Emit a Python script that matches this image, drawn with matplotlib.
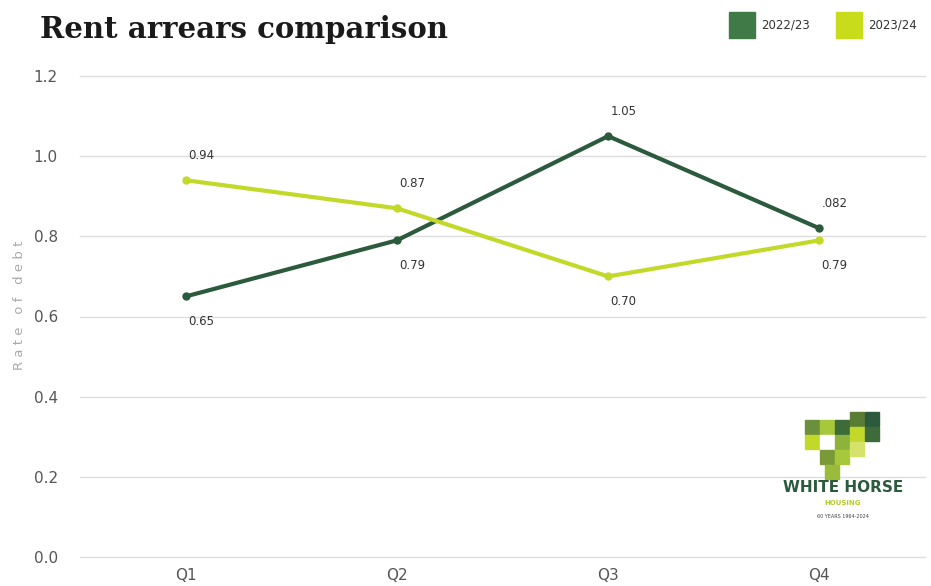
import matplotlib
matplotlib.use('Agg')
import matplotlib.pyplot as plt
from matplotlib.patches import Rectangle

quarters = ['Q1', 'Q2', 'Q3', 'Q4']
rate_2223 = [0.65, 0.79, 1.05, 0.82]
rate_2324 = [0.94, 0.87, 0.70, 0.79]
labels_2223 = ['0.65', '0.79', '1.05', '.082']
labels_2324 = ['0.94', '0.87', '0.70', '0.79']
# +1 = label above the point, -1 = below
pos_2223 = [-1, -1, 1, 1]
pos_2324 = [1, 1, -1, -1]

dark = '#2b5a3c'
lime = '#c3d92a'
legend_dark = '#3f7a47'
legend_lime = '#c8dc1c'

fig = plt.figure(figsize=(9.31, 5.86), dpi=100)
ax = fig.add_axes([80 / 931, 1 - 557 / 586, 845 / 931, (557 - 76) / 586])

x = list(range(len(quarters)))
ax.plot(x, rate_2223, color=dark, lw=3, marker='o', ms=5, zorder=3)
ax.plot(x, rate_2324, color=lime, lw=3, marker='o', ms=5, zorder=3)

for xs, ys, labs, pos in [(x, rate_2223, labels_2223, pos_2223),
                          (x, rate_2324, labels_2324, pos_2324)]:
    for xi, yi, lab, p in zip(xs, ys, labs, pos):
        ax.annotate(lab, (xi, yi), xytext=(11, 18 * p), textcoords='offset points',
                    ha='center', va='center', fontsize=8.5, color='#333333')

ax.set_xlim(-0.5, 3.5)
ax.set_ylim(0, 1.2)
ax.set_yticks([0, 0.2, 0.4, 0.6, 0.8, 1.0, 1.2])
ax.set_yticklabels(['0.0', '0.2', '0.4', '0.6', '0.8', '1.0', '1.2'])
ax.set_xticks(x)
ax.set_xticklabels(quarters)
ax.grid(axis='y', color='#dddddd', lw=1)
for gl in ax.get_ygridlines():
    gl.set_clip_on(False)
ax.set_axisbelow(True)
for s in ax.spines.values():
    s.set_visible(False)
ax.tick_params(axis='both', length=0, labelsize=11, colors='#555555')
ax.tick_params(axis='y', pad=16)
ax.tick_params(axis='x', pad=8)

fig.text(20 / 931, 1 - 305 / 586, 'R a t e   o f   d e b t', rotation=90,
         ha='center', va='center', fontsize=9.5, color='#aaaaaa')

fig.text(40 / 931, 1 - 30 / 586, 'Rent arrears comparison', fontsize=21,
         fontweight='bold', family='DejaVu Serif', color='#1a1a1a',
         ha='left', va='center')

# legend squares
for x0, col, lab in [(729, legend_dark, '2022/23'), (836, legend_lime, '2023/24')]:
    fig.patches.append(Rectangle((x0 / 931, 1 - 38 / 586), 26 / 931, 26 / 586,
                                 transform=fig.transFigure, color=col))
    fig.text((x0 + 32) / 931, 1 - 25 / 586, lab, fontsize=8.5, color='#333333',
             ha='left', va='center')

# logo (simplified)
logo_cells = [(805, 420, '#6b8f3a'), (820, 420, '#a7c83a'), (835, 420, '#3d6b3a'),
              (850, 412, '#5a7d34'), (865, 412, '#2b5a3c'), (805, 435, '#c3d92a'),
              (820, 435, '#ffffff'), (835, 435, '#8db33a'), (850, 427, '#c3d92a'),
              (865, 427, '#3d6b3a'), (820, 450, '#7a9a3a'), (835, 450, '#a7c83a'),
              (850, 442, '#d5e36a'), (825, 465, '#9bbb3a')]
for cx, cy, col in logo_cells:
    fig.patches.append(Rectangle((cx / 931, 1 - (cy + 14) / 586), 14 / 931, 14 / 586,
                                 transform=fig.transFigure, color=col))
fig.text(843 / 931, 1 - 488 / 586, 'WHITE HORSE', fontsize=11, fontweight='bold',
         color='#2b5a3c', ha='center', va='center')
fig.text(843 / 931, 1 - 503 / 586, 'HOUSING', fontsize=5, fontweight='bold',
         color='#b5cc2a', ha='center', va='center')
fig.text(843 / 931, 1 - 516 / 586, '60 YEARS 1964-2024', fontsize=3.5,
         color='#444444', ha='center', va='center')

fig.savefig('out.png', dpi=100)
